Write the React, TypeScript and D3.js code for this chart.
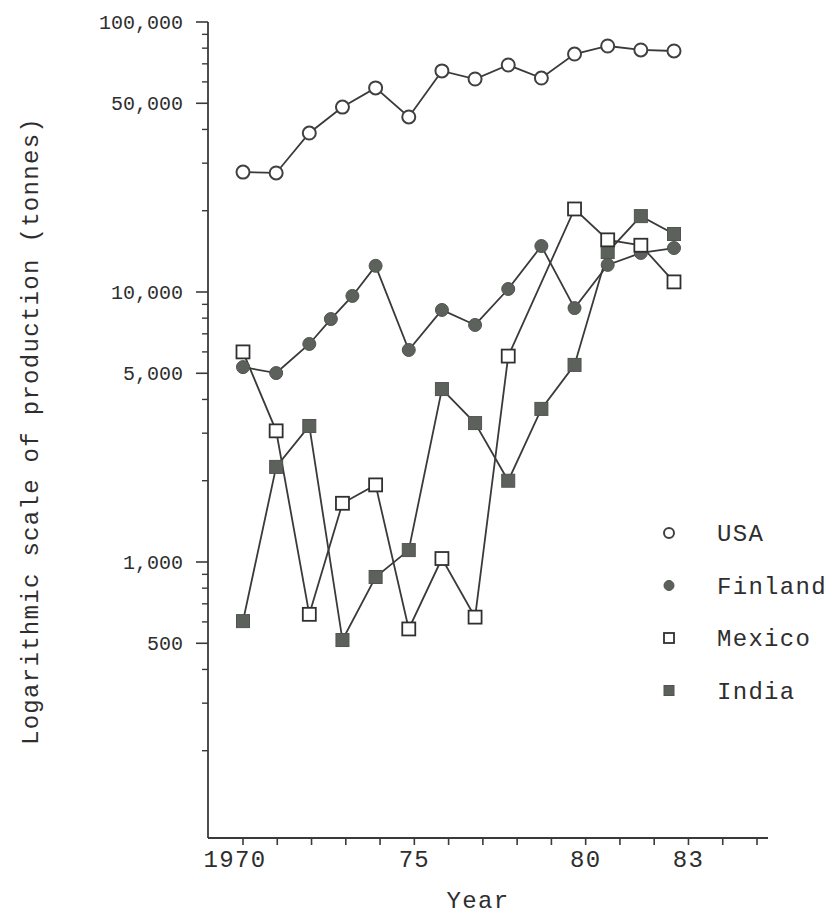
import React from "react";
import * as d3 from "d3";

// ---- Data ----
const usaYears = [1970, 1971, 1972, 1973, 1974, 1975, 1976, 1977, 1978, 1979, 1980, 1981, 1982, 1983];
const usaValues = [27800, 27600, 38800, 48400, 57000, 44500, 65900, 61500, 69300, 62000, 76100, 81500, 78800, 78100];

const finlandYears = [1970, 1971, 1972, 1972.65, 1973.3, 1974, 1975, 1976, 1977, 1978, 1979, 1980, 1981, 1982, 1983];
const finlandValues = [5270, 5010, 6420, 7940, 9670, 12500, 6100, 8580, 7550, 10260, 14800, 8720, 12600, 13950, 14550];

const mexicoYears = [1970, 1971, 1972, 1973, 1974, 1975, 1976, 1977, 1978, 1980, 1981, 1982, 1983];
const mexicoValues = [6000, 3060, 640, 1650, 1930, 565, 1030, 625, 5790, 20300, 15600, 14900, 10900];

const indiaYears = [1970, 1971, 1972, 1973, 1974, 1975, 1976, 1977, 1978, 1979, 1980, 1981, 1982, 1983];
const indiaValues = [604, 2250, 3190, 514, 880, 1107, 4370, 3270, 2000, 3690, 5370, 14060, 19100, 16400];

const yTickValues = [100000, 50000, 10000, 5000, 1000, 500];
const yTickLabels = ["100,000", "50,000", "10,000", "5,000", "1,000", "500"];
const xTickLabelYears = [1970, 1975, 1980, 1983];
const xTickLabels = ["1970", "75", "80", "83"];
const legendNames = ["USA", "Finland", "Mexico", "India"];

const xTitle = "Year";
const yTitle = "Logarithmic scale of production (tonnes)";

// ---- Layout / style ----
const W = 832;
const H = 915;
const axisX = 208;
const axisBottom = 838;
const FONT = "'Liberation Mono', 'DejaVu Sans Mono', monospace";
const LINE = "#3a3a3a";
const FILL = "#5c615c";
const TEXT = "#2e2e2e";

type Shape = "openCircle" | "filledCircle" | "openSquare" | "filledSquare";

function Marker({ x, y, shape, size }: { x: number; y: number; shape: Shape; size: number }) {
  if (shape === "openCircle")
    return <circle cx={x} cy={y} r={size} fill="#fff" stroke="#404040" strokeWidth={2} />;
  if (shape === "filledCircle")
    return <circle cx={x} cy={y} r={size} fill={FILL} stroke="#505450" strokeWidth={1} />;
  if (shape === "openSquare")
    return (
      <rect x={x - size} y={y - size} width={size * 2} height={size * 2} fill="#fff" stroke="#303030" strokeWidth={1.8} />
    );
  return <rect x={x - size} y={y - size} width={size * 2} height={size * 2} fill={FILL} stroke="#505450" strokeWidth={1} />;
}

export default function App() {
  const xScale = d3.scaleLinear().domain([1970, 1983]).range([243, 674]);
  const xAxisScale = d3.scaleLinear().domain([1970, 1985]).range([243, 757]);
  const yScale = d3.scaleLog().domain([100, 100000]).range([832, 22]);

  const series = [
    { name: "USA", years: usaYears, values: usaValues, shape: "openCircle" as Shape },
    { name: "Finland", years: finlandYears, values: finlandValues, shape: "filledCircle" as Shape },
    { name: "Mexico", years: mexicoYears, values: mexicoValues, shape: "openSquare" as Shape },
    { name: "India", years: indiaYears, values: indiaValues, shape: "filledSquare" as Shape },
  ];

  const line = d3
    .line<[number, number]>()
    .x((d) => xScale(d[0]))
    .y((d) => yScale(d[1]));

  const xTicks = d3.range(1970, 1986);
  const minorY: number[] = [];
  [100, 1000, 10000].forEach((dec) => {
    for (let k = 2; k <= 9; k++) minorY.push(dec * k);
  });
  const majorSet = new Set(yTickValues);
  const minorTicks = minorY.filter((v) => !majorSet.has(v));

  const drawOrder = ["India", "Finland", "Mexico", "USA"];

  return (
    <svg width={W} height={H} style={{ position: "absolute", left: 0, top: 0, background: "#fff" }}>
      <rect x={0} y={0} width={W} height={H} fill="#fff" />
      {/* axes */}
      <line x1={axisX} y1={yScale(100000)} x2={axisX} y2={axisBottom} stroke={LINE} strokeWidth={1.8} />
      <line x1={axisX} y1={axisBottom} x2={768} y2={axisBottom} stroke={LINE} strokeWidth={1.8} />
      {yTickValues.map((v) => (
        <line key={"ym" + v} x1={axisX - 12} x2={axisX} y1={yScale(v)} y2={yScale(v)} stroke={LINE} strokeWidth={1.6} />
      ))}
      {minorTicks.map((v) => (
        <line key={"yn" + v} x1={axisX - 6} x2={axisX} y1={yScale(v)} y2={yScale(v)} stroke={LINE} strokeWidth={1.4} />
      ))}
      {yTickValues.map((v, i) => (
        <text
          key={"yl" + v}
          x={183}
          y={yScale(v)}
          dy="0.35em"
          textAnchor="end"
          fontFamily={FONT}
          fontSize={20}
          fill={TEXT}
        >
          {yTickLabels[i]}
        </text>
      ))}
      {xTicks.map((t) => (
        <line key={"xt" + t} x1={xAxisScale(t)} x2={xAxisScale(t)} y1={axisBottom} y2={axisBottom + 7} stroke={LINE} strokeWidth={1.6} />
      ))}
      {xTickLabelYears.map((t, i) => (
        <text
          key={"xl" + t}
          x={xAxisScale(t) - (i === 0 ? 8 : 0)}
          y={867}
          textAnchor="middle"
          fontFamily={FONT}
          fontSize={24}
          letterSpacing={1.3}
          fill={TEXT}
        >
          {xTickLabels[i]}
        </text>
      ))}
      <text x={478} y={908} textAnchor="middle" fontFamily={FONT} fontSize={24} letterSpacing={1.3} fill={TEXT}>
        {xTitle}
      </text>
      <text
        transform={`translate(38, 431) rotate(-90)`}
        textAnchor="middle"
        fontFamily={FONT}
        fontSize={24}
        letterSpacing={1.3}
        fill={TEXT}
      >
        {yTitle}
      </text>

      {/* lines */}
      {series.map((s) => (
        <path
          key={"p" + s.name}
          d={line(s.years.map((y, i) => [y, s.values[i]] as [number, number])) || ""}
          fill="none"
          stroke={LINE}
          strokeWidth={1.8}
        />
      ))}
      {/* markers */}
      {drawOrder.map((n) => {
        const s = series.find((q) => q.name === n)!;
        return (
          <g key={"m" + n}>
            {s.years.map((y, i) => (
              <Marker key={i} x={xScale(y)} y={yScale(s.values[i])} shape={s.shape} size={s.shape.includes("Circle") ? 6.5 : 6.5} />
            ))}
          </g>
        );
      })}

      {/* legend */}
      {series.map((s, i) => (
        <g key={"lg" + s.name}>
          <Marker x={669} y={533 + i * 52.5} shape={s.shape} size={5} />
          <text x={717} y={533 + i * 52.5} dy="0.35em" fontFamily={FONT} fontSize={24} letterSpacing={1.3} fill={TEXT}>
            {legendNames[i]}
          </text>
        </g>
      ))}
    </svg>
  );
}
